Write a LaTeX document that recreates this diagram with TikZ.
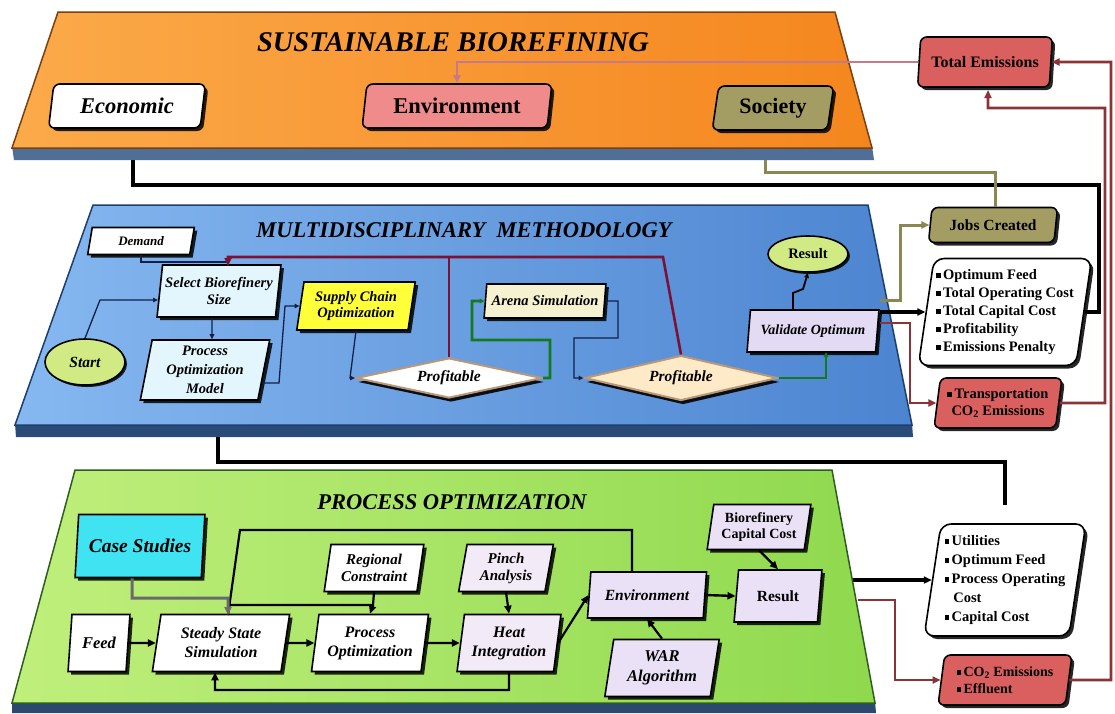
\documentclass[tikz,border=0pt]{standalone}
\usepackage{fontspec}
\setmainfont{Liberation Serif}
\usetikzlibrary{shapes.geometric,shadows,arrows.meta,calc}
\definecolor{orL}{HTML}{FBAA4A}\definecolor{orR}{HTML}{F5861E}\definecolor{orbd}{HTML}{7A4010}\definecolor{orsh}{HTML}{4F6F96}
\definecolor{blL}{HTML}{86B8F0}\definecolor{blR}{HTML}{4C84D0}\definecolor{blbd}{HTML}{1E3E6E}\definecolor{blsh}{HTML}{2A4A78}
\definecolor{grL}{HTML}{C0EF7C}\definecolor{grR}{HTML}{8FD94E}\definecolor{grbd}{HTML}{2E5E1E}\definecolor{grsh}{HTML}{2C4870}
\definecolor{envfill}{HTML}{F08B8B}\definecolor{socfill}{HTML}{A39C63}\definecolor{totfill}{HTML}{D9605F}
\definecolor{selfill}{HTML}{E3F6FE}\definecolor{yelfill}{HTML}{FFFF3A}\definecolor{arenafill}{HTML}{F6F1D0}
\definecolor{proffill}{HTML}{FFEAC8}\definecolor{valfill}{HTML}{E3DAF3}\definecolor{ellfill}{HTML}{D2EA84}
\definecolor{casefill}{HTML}{3FE3F2}\definecolor{lavfill}{HTML}{F3EAF8}\definecolor{lavtwo}{HTML}{EBE1F6}
\definecolor{dred}{HTML}{8A3438}\definecolor{pinkl}{HTML}{C47A88}\definecolor{oliv}{HTML}{8C8652}
\definecolor{grn}{HTML}{157A1F}\definecolor{navl}{HTML}{12204A}\definecolor{crim}{HTML}{7C1233}\definecolor{greyl}{HTML}{6A6A6A}
\definecolor{diabd}{HTML}{B89878}
\newcommand\sqb{\raisebox{0.22ex}{\rule{0.32em}{0.32em}}\,}
\newcommand\fz[2]{\fontsize{#1}{#2}\selectfont}
\tikzset{
  bx/.style={trapezium, trapezium left angle=80, trapezium right angle=100, trapezium stretches=true,
    draw=black, line width=1.6pt, inner sep=2pt, align=center,
    drop shadow={shadow xshift=3pt,shadow yshift=-3pt,fill=black,opacity=0.85}},
  rbx/.style={bx, rounded corners=6pt},
  ell/.style={ellipse, draw=black, line width=1.6pt, fill=ellfill, inner sep=1pt,
    drop shadow={shadow xshift=2pt,shadow yshift=-2pt,fill=black,opacity=0.85}},
  dia/.style={diamond, draw=diabd, line width=2pt, inner sep=0pt,
    drop shadow={shadow xshift=2pt,shadow yshift=-4pt,fill=black,opacity=0.9}},
  myarr/.style={-{Triangle[length=8pt,width=7pt]}},
  thinarr/.style={-{Triangle[length=5pt,width=4.5pt]}},
  ptitle/.style={font=\bfseries\itshape\fz{22.5}{26}},
  bi/.style={font=\bfseries\itshape\fz{14.5}{16.5}},
  bu/.style={font=\bfseries\fz{14.5}{16.5}}
}
\begin{document}
\begin{tikzpicture}[x=1pt,y=-1pt]
\useasboundingbox (0,0) rectangle (1115,713);
\fill[white] (0,0) rectangle (1115,713);
% ---------- panels ----------
\fill[orsh] (12,146) -- (872,146) -- (874,160) -- (14,160) -- cycle;
\path[draw=orbd, line width=1.5pt, left color=orL, right color=orR] (58,12) -- (835,12) -- (872,148) -- (12,148) -- cycle;
\fill[blsh] (15,423) -- (912,423) -- (913,437) -- (16,437) -- cycle;
\path[draw=blbd, line width=1.5pt, left color=blL, right color=blR] (93,205) -- (868,205) -- (912,425) -- (15,425) -- cycle;
\fill[grsh] (12,701) -- (875,701) -- (876,713) -- (12,713) -- cycle;
\path[draw=grbd, line width=1.5pt, left color=grL, right color=grR] (75,470) -- (832,470) -- (875,703) -- (12,703) -- cycle;
% ---------- titles ----------
\node[font=\bfseries\itshape\fz{28.5}{32}] (t1) at (453,42) {SUSTAINABLE BIOREFINING};
\node[ptitle] (t2) at (464,230) {MULTIDISCIPLINARY\ \ METHODOLOGY};
\node[ptitle] (t3) at (452,502) {PROCESS OPTIMIZATION};
% ---------- top row ----------
\node[rbx, fill=white, minimum width=157pt, minimum height=44pt, font=\bfseries\itshape\fz{22.5}{24}] (econ) at (127,106) {Economic};
\node[rbx, fill=envfill, minimum width=190pt, minimum height=44pt, font=\bfseries\fz{22.5}{24}] (envr) at (457,106) {Environment};
\node[rbx, fill=socfill, minimum width=122pt, minimum height=44pt, font=\bfseries\fz{22}{24}] (soc) at (773,108) {Society};
\node[rbx, fill=totfill, minimum width=135pt, minimum height=50pt, font=\bfseries\fz{16}{18}] (totem) at (985,62) {Total Emissions};
% ---------- multidisciplinary ----------
\node[bx, fill=white, minimum width=107pt, minimum height=27pt, font=\bfseries\itshape\fz{13}{14}] (demand) at (141,241) {Demand};
\node[bx, fill=selfill, minimum width=124pt, minimum height=52pt, bi] (sel) at (219,291) {Select Biorefinery\\Size};
\node[bx, fill=selfill, minimum width=130pt, minimum height=60pt, font=\bfseries\itshape\fz{14.5}{19}] (pom) at (205,370) {Process\\Optimization\\Model};
\node[bx, fill=yelfill, minimum width=119pt, minimum height=48pt, bi] (sco) at (356,306) {Supply Chain\\Optimization};
\node[ell, minimum width=80pt, minimum height=46pt, font=\bfseries\itshape\fz{15.5}{17}] (start) at (85,362) {Start};
\node[dia, fill=white, aspect=4.7, minimum width=186pt, minimum height=40pt, font=\bfseries\itshape\fz{15.5}{17}] (prof1) at (449,378) {Profitable};
\node[bx, fill=arenafill, minimum width=122pt, minimum height=34pt, bi] (arena) at (545,301) {Arena Simulation};
\node[dia, fill=proffill, aspect=4.3, minimum width=193pt, minimum height=45pt, font=\bfseries\itshape\fz{15.5}{17}] (prof2) at (681,378) {Profitable};
\node[bx, fill=valfill, minimum width=132pt, minimum height=42pt, font=\bfseries\itshape\fz{14}{16}] (val) at (813,331) {Validate Optimum};
\node[ell, minimum width=80pt, minimum height=36pt, font=\bfseries\fz{14.5}{16}] (res1) at (808,254) {Result};
% ---------- right column top ----------
\node[rbx, fill=socfill, minimum width=130pt, minimum height=35pt, font=\bfseries\fz{15.5}{17}] (jobs) at (993,225) {Jobs Created};
\node[rbx, fill=white, rounded corners=10pt, minimum width=162pt, minimum height=107pt, align=left, font=\bfseries\fz{14.5}{18}] (optl) at (1005,312)
  {\sqb Optimum Feed\\\sqb Total Operating Cost\\\sqb Total Capital Cost\\\sqb Profitability\\\sqb Emissions Penalty};
\node[rbx, fill=totfill, minimum width=128pt, minimum height=50pt, font=\bfseries\fz{14.5}{17}] (trans) at (998,403) {\sqb Transportation\\CO\textsubscript{2} Emissions};
% ---------- process optimization ----------
\node[bx, fill=casefill, minimum width=130pt, minimum height=63pt, font=\bfseries\itshape\fz{19.5}{21}] (case) at (140,546) {Case Studies};
\node[bx, fill=white, minimum width=62pt, minimum height=57pt, font=\bfseries\itshape\fz{16.5}{18}] (feed) at (99,643) {Feed};
\node[bx, fill=white, minimum width=138pt, minimum height=57pt, font=\bfseries\itshape\fz{16}{19}] (sss) at (221,643) {Steady State\\Simulation};
\node[bx, fill=white, minimum width=117pt, minimum height=57pt, font=\bfseries\itshape\fz{16}{19}] (po) at (370,643) {Process\\Optimization};
\node[bx, fill=lavfill, minimum width=104pt, minimum height=57pt, font=\bfseries\itshape\fz{16}{19}] (hi) at (509,643) {Heat\\Integration};
\node[bx, fill=white, minimum width=100pt, minimum height=47pt, font=\bfseries\itshape\fz{15}{17}] (reg) at (374,568) {Regional\\Constraint};
\node[bx, fill=lavfill, minimum width=95pt, minimum height=47pt, font=\bfseries\itshape\fz{15}{17}] (pinch) at (506,568) {Pinch\\Analysis};
\node[bx, fill=lavtwo, minimum width=120pt, minimum height=46pt, font=\bfseries\itshape\fz{15.5}{17}] (env2) at (647,595) {Environment};
\node[bx, fill=lavtwo, minimum width=115pt, minimum height=57pt, font=\bfseries\itshape\fz{16.5}{20}] (war) at (662,668) {WAR\\Algorithm};
\node[bx, fill=lavtwo, minimum width=104pt, minimum height=45pt, font=\bfseries\fz{14}{16}] (bcc) at (759,527) {Biorefinery\\Capital Cost};
\node[bx, fill=lavtwo, minimum width=88pt, minimum height=52pt, font=\bfseries\fz{15.5}{17}] (res2) at (778,596) {Result};
% ---------- right column bottom ----------
\node[rbx, fill=white, rounded corners=10pt, minimum width=162pt, minimum height=112pt, align=left, font=\bfseries\fz{14.5}{19}] (utl) at (1005,580)
  {\sqb Utilities\\\sqb Optimum Feed\\\sqb Process Operating\\\hspace*{0.6em}Cost\\\sqb Capital Cost};
\node[rbx, fill=totfill, minimum width=134pt, minimum height=50pt, align=left, font=\bfseries\fz{14}{17}] (co2) at (1005,680) {\sqb CO\textsubscript{2} Emissions\\\sqb Effluent};
% ---------- free-end coordinates ----------
\coordinate (orbot) at (133,160);
\coordinate (socbot) at (765,160);
\coordinate (blbot) at (218,437);
\coordinate (mdo) at (880,312);
\coordinate (pob) at (853,580);
% ---------- top connectors ----------
\draw[pinkl, line width=2.8pt, myarr] (totem.west) -| (envr.north);
\draw[dred, line width=2.8pt, myarr] (co2.east) -- (1111,680) |- (totem.east);
\draw[dred, line width=2.8pt, myarr] (trans.east) -- (1105,403) |- (988,108) -- (988,90);
\draw[black, line width=3.6pt] (optl.east) -| (1099,185) -| (orbot);
\draw[oliv, line width=3pt] (socbot) |- (995,172) -- (995,207);
% ---------- multidisciplinary connectors ----------
\draw[navl, line width=1.3pt] (demand.south) |- (228,262);
\draw[crim, line width=2.6pt] (prof1.north) -- (449,257);
\draw[crim, line width=2.6pt, myarr] (prof2.north) -- (663,257) -- (228,257) -- (228,266);
\draw[navl, line width=1.3pt, thinarr] (start.north) -- (100,300) -- (158,300);
\draw[navl, line width=1.3pt, thinarr] ($(sel.south)+(-7,0)$) -- ($(pom.north)+(7,0)$);
\draw[navl, line width=1.3pt, thinarr] ($(pom.east)+(-2,13)$) -- (279,383) -- (285,306) -- (sco.west);
\draw[navl, line width=1.3pt, thinarr] (sco.south) -- (350,378) -- (prof1.west);
\draw[grn, line width=2.6pt, thinarr] (prof1.east) -- (550,378) -- (550,340) -- (472,340) -- (472,301) -- (arena.west);
\draw[navl, line width=1.3pt, thinarr] (arena.east) -- (618,301) -- (618,338) -- (574,338) -- (574,378) -- (prof2.west);
\draw[grn, line width=2.8pt, thinarr] (prof2.east) -- (826,378) -- (826,352);
\draw[black, line width=1.8pt, thinarr] ($(val.north)+(-20,0)$) -- (793,293) -- (803,289) -- (res1.south);
\draw[oliv, line width=3pt, myarr] (880,300) -- (900,300) |- (jobs.west);
\draw[black, line width=3.6pt, myarr] (mdo) -- (optl.west);
\draw[dred, line width=2.8pt, myarr] (880,323) -- (910,323) |- (trans.west);
% ---------- link panels ----------
\draw[black, line width=3.6pt] (blbot) |- (1005,462) -- (1005,505);
% ---------- process optimization connectors ----------
\draw[black, line width=2.2pt] ($(env2.north)+(-15,0)$) -- (632,530) -- (240,530) -- (228,615);
\draw[black, line width=2.2pt] (reg.south) -- (373,605) -- (230,605);
\draw[black, line width=2.2pt, myarr] (373,605) -- (po.north);
\draw[greyl, line width=3pt, myarr] ($(case.south)+(-8,0)$) -- (132,598) -- (228,598) -- (228,615);
\draw[black, line width=2.4pt, myarr] (feed.east) -- (sss.west);
\draw[black, line width=2.4pt, myarr] (sss.east) -- (po.west);
\draw[black, line width=2.4pt, myarr] (po.east) -- (hi.west);
\draw[black, line width=2.2pt, myarr] (pinch.south) -- (hi.north);
\draw[black, line width=2.2pt, myarr] (hi.east) -- (env2.west);
\draw[black, line width=2.4pt, myarr] (env2.east) -- (res2.west);
\draw[black, line width=2.2pt, myarr] (bcc.south) -- (res2.north);
\draw[black, line width=2.2pt, myarr] (war.north) -- (env2.south);
\draw[black, line width=2.2pt, myarr] (hi.south) -- (509,690) -- (215,690) -- ($(sss.south)+(-6,0)$);
\draw[black, line width=3.6pt, myarr] (pob) -- (utl.west);
\draw[dred, line width=2.8pt, myarr] (858,600) -- (895,600) |- (co2.west);
\end{tikzpicture}
\end{document}
